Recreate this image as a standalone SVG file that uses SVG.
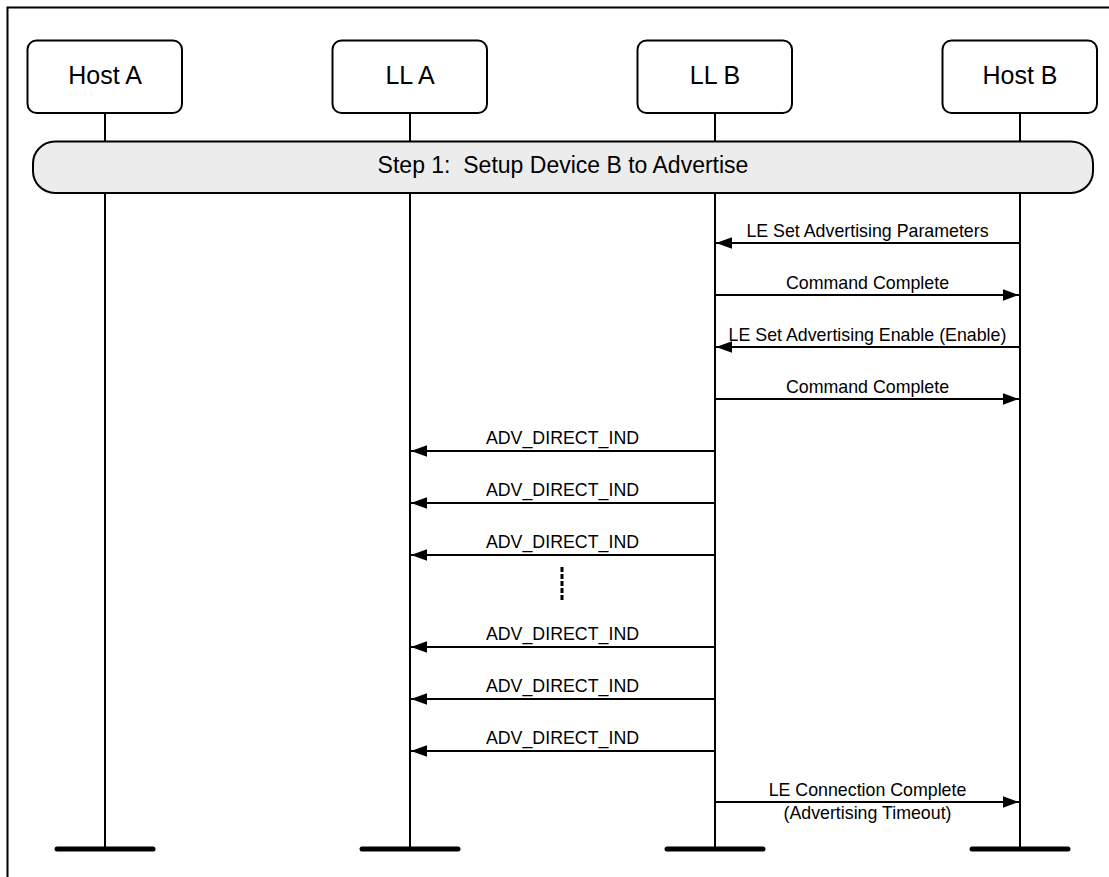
<svg xmlns="http://www.w3.org/2000/svg" width="1109" height="877" viewBox="0 0 1109 877">
<defs>
<style>
.box{fill:#fff;stroke:#000;stroke-width:2}
.life{stroke:#000;stroke-width:2}
.end{stroke:#000;stroke-width:5;stroke-linecap:round}
.hdr{font-family:"Liberation Sans",Arial,sans-serif;font-size:25px;text-anchor:middle;fill:#000}
.lbl{font-family:"Liberation Sans",Arial,sans-serif;font-size:17.8px;text-anchor:middle;fill:#000}
.msg{stroke:#000;stroke-width:2.2;fill:none;marker-end:url(#ah)}
</style>
<marker id="ah" markerWidth="16" markerHeight="12" refX="16" refY="6" orient="auto" markerUnits="userSpaceOnUse">
<path d="M0,0.3 L16,6 L0,11.7 z" fill="#000"/>
</marker>
</defs>
<rect x="7.5" y="7.5" width="1120" height="890" fill="#fff" stroke="#000" stroke-width="2"/>
<g id="lifelines">
<line class="life" x1="105" y1="113" x2="105" y2="849"/>
<line class="life" x1="410" y1="113" x2="410" y2="849"/>
<line class="life" x1="715" y1="113" x2="715" y2="849"/>
<line class="life" x1="1020" y1="113" x2="1020" y2="849"/>
<line class="end" x1="57" y1="849" x2="153" y2="849"/>
<line class="end" x1="362" y1="849" x2="458" y2="849"/>
<line class="end" x1="667" y1="849" x2="763" y2="849"/>
<line class="end" x1="972" y1="849" x2="1068" y2="849"/>
</g>
<g id="hostA"><rect class="box" x="27.5" y="40.5" width="154.5" height="72.5" rx="9"/><text class="hdr" x="105" y="84">Host A</text></g>
<g id="llA"><rect class="box" x="332.5" y="40.5" width="154.5" height="72.5" rx="9"/><text class="hdr" x="410" y="84">LL A</text></g>
<g id="llB"><rect class="box" x="637.5" y="40.5" width="154.5" height="72.5" rx="9"/><text class="hdr" x="715" y="84">LL B</text></g>
<g id="hostB"><rect class="box" x="942.5" y="40.5" width="154.5" height="72.5" rx="9"/><text class="hdr" x="1020" y="84">Host B</text></g>
<g id="step1"><rect x="33" y="141.5" width="1060" height="51.5" rx="22" fill="#ececec" stroke="#000" stroke-width="2"/><text x="563" y="173" xml:space="preserve" font-family="'Liberation Sans',Arial,sans-serif" font-size="23px" text-anchor="middle">Step 1:  Setup Device B to Advertise</text></g>
<g id="connectors">
<line class="msg" x1="1020" y1="243" x2="716" y2="243"/>
<text class="lbl" x="867.5" y="237">LE Set Advertising Parameters</text>
<line class="msg" x1="715" y1="295" x2="1019" y2="295"/>
<text class="lbl" x="867.5" y="289">Command Complete</text>
<line class="msg" x1="1020" y1="347" x2="716" y2="347"/>
<text class="lbl" x="867.5" y="341">LE Set Advertising Enable (Enable)</text>
<line class="msg" x1="715" y1="399" x2="1019" y2="399"/>
<text class="lbl" x="867.5" y="393">Command Complete</text>
<line class="msg" x1="715" y1="451" x2="411" y2="451"/>
<text class="lbl" x="562.5" y="444">ADV_DIRECT_IND</text>
<line class="msg" x1="715" y1="503" x2="411" y2="503"/>
<text class="lbl" x="562.5" y="496">ADV_DIRECT_IND</text>
<line class="msg" x1="715" y1="555" x2="411" y2="555"/>
<text class="lbl" x="562.5" y="548">ADV_DIRECT_IND</text>
<line x1="562" y1="567" x2="562" y2="602" stroke="#000" stroke-width="3" stroke-dasharray="5,2"/>
<line class="msg" x1="715" y1="647" x2="411" y2="647"/>
<text class="lbl" x="562.5" y="640">ADV_DIRECT_IND</text>
<line class="msg" x1="715" y1="699" x2="411" y2="699"/>
<text class="lbl" x="562.5" y="692">ADV_DIRECT_IND</text>
<line class="msg" x1="715" y1="751" x2="411" y2="751"/>
<text class="lbl" x="562.5" y="744">ADV_DIRECT_IND</text>
<line class="msg" x1="715" y1="802" x2="1019" y2="802"/>
<text class="lbl" x="867.5" y="796">LE Connection Complete</text>
<text class="lbl" x="867.5" y="819">(Advertising Timeout)</text>
</g>
</svg>
